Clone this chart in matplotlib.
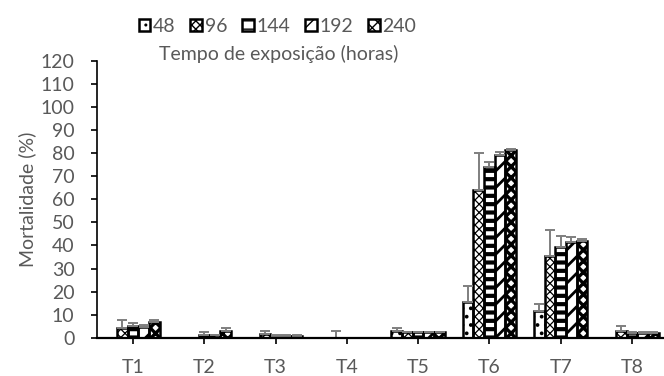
import numpy as np
import matplotlib
matplotlib.use('Agg')
import matplotlib.pyplot as plt

plt.rcParams['font.family'] = ['Lato', 'DejaVu Sans']

groups = ['T1', 'T2', 'T3', 'T4', 'T5', 'T6', 'T7', 'T8']
hours = ['48', '96', '144', '192', '240']

# mean mortality (%) per exposure time
m48  = [0.0, 0.0, 0.0, 0.0, 3.0, 15.3, 11.7, 0.0]
m96  = [4.0, 0.0, 1.5, 0.0, 2.3, 64.2, 35.6, 2.8]
m144 = [5.2, 1.2, 0.8, 0.0, 2.3, 74.2, 39.3, 2.0]
m192 = [4.8, 1.0, 0.8, 0.0, 2.3, 79.2, 41.6, 2.0]
m240 = [7.0, 2.8, 0.8, 0.0, 2.3, 81.3, 41.9, 2.0]

# upper error (standard deviation)
e48  = [0.0, 0.0, 0.0, 0.0, 1.2, 7.3, 2.9, 0.0]
e96  = [3.7, 0.0, 1.3, 2.9, 0.3, 15.8, 11.2, 2.3]
e144 = [1.3, 1.2, 0.2, 0.0, 0.3, 2.2, 5.0, 0.3]
e192 = [0.7, 0.3, 0.2, 0.0, 0.3, 1.2, 2.0, 0.3]
e240 = [0.8, 1.2, 0.2, 0.0, 0.3, 0.5, 1.0, 0.3]

means = [m48, m96, m144, m192, m240]
errs = [e48, e96, e144, e192, e240]

hatches = ['..', 'xxxx', '--', '//', 'xxx']
hatch_lw = [1.5, 0.9, 3.0, 2.0, 2.4]

fig = plt.figure(figsize=(6.64, 3.76), dpi=100)
ax = fig.add_axes([0.1467, 0.1019, 0.8587, 0.7359])

x = np.arange(len(groups))
w = 0.15
text_c = '#595959'
fs = 14

handles = []
for i in range(5):
    xs = x + (i - 2) * w
    v = np.array(means[i])
    e = np.array(errs[i])
    with plt.rc_context({'hatch.linewidth': hatch_lw[i]}):
        b1 = ax.bar(xs, v, w, color='white', edgecolor='black',
                    hatch=hatches[i], linewidth=0, zorder=2)
    b2 = ax.bar(xs, v, w, fill=False, edgecolor='black',
                linewidth=1.8, zorder=3)
    mask = (v > 0) | (e > 0)
    ax.errorbar(xs[mask], v[mask],
                yerr=[np.zeros(mask.sum()), e[mask]],
                fmt='none', ecolor='#7f7f7f', elinewidth=1.4,
                capsize=3.8, capthick=1.4, zorder=4)
    handles.append((b1[0], b2[0]))

ax.set_xlim(-0.5, len(groups) - 0.5)
ax.set_ylim(0, 120)
ax.set_yticks(np.arange(0, 121, 10))
ax.set_xticks(x)
ax.set_xticklabels(groups)

for s in ['top', 'right']:
    ax.spines[s].set_visible(False)
ax.spines['left'].set_linewidth(1.2)
ax.spines['bottom'].set_linewidth(1.6)
ax.spines['bottom'].set_zorder(5)
ax.tick_params(axis='both', direction='out', length=4.5, width=1.2,
               color='black', labelcolor=text_c, labelsize=fs)
ax.tick_params(axis='y', pad=12)
ax.tick_params(axis='x', pad=11)

ax.set_ylabel('Mortalidade (%)', fontsize=fs, color=text_c, labelpad=3)

fig.legend(handles, hours, loc='center', bbox_to_anchor=(0.418, 0.93),
           ncol=5, frameon=False, fontsize=fs, labelcolor=text_c,
           handlelength=0.6, handleheight=0.6, handletextpad=0.15,
           columnspacing=0.75, borderpad=0)
fig.text(0.419, 0.857, 'Tempo de exposição (horas)', ha='center',
         va='center', fontsize=fs, color=text_c)

fig.savefig('out.png', dpi=100, facecolor='white')
